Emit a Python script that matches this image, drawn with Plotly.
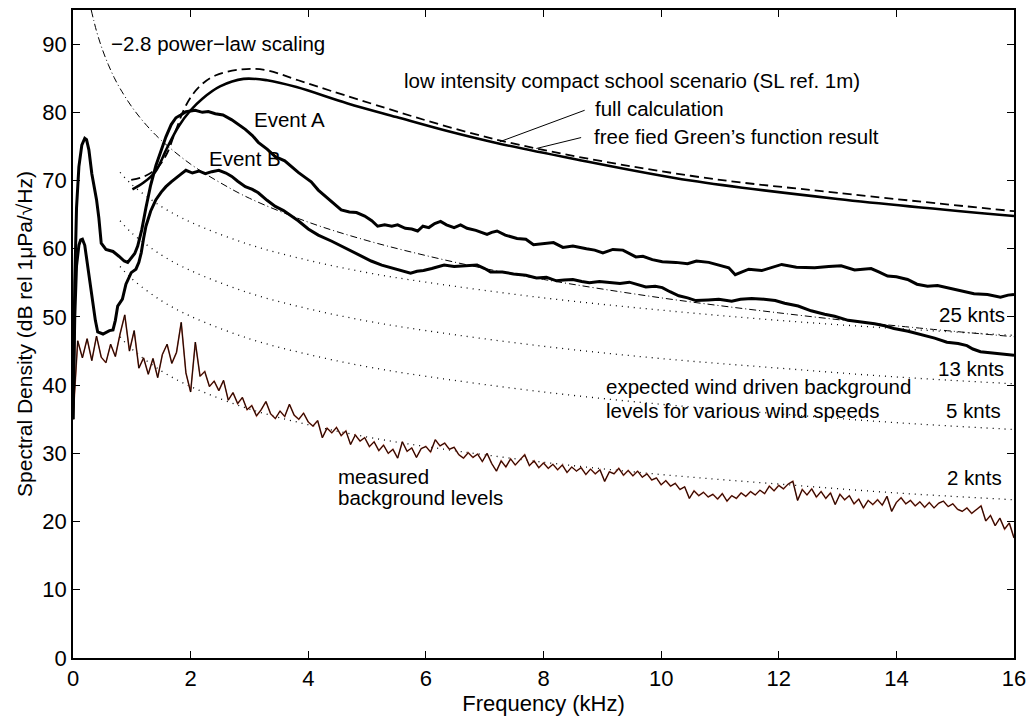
import numpy as np
import plotly.graph_objects as go

# ---------------- data ----------------
# Event A (thick solid)
event_a_f = [0, 0.03, 0.06, 0.1, 0.15, 0.2, 0.23, 0.27, 0.32, 0.4, 0.44, 0.48, 0.56, 0.68, 0.78, 0.87, 0.93, 0.99,
             1.05, 1.1, 1.17, 1.24, 1.32, 1.41, 1.5, 1.58, 1.67, 1.75, 1.83, 1.92, 2.0, 2.08, 2.2, 2.3, 2.42, 2.55,
             2.7, 2.8, 2.93, 3.05, 3.15, 3.3, 3.44, 3.6, 3.72, 3.83, 3.94, 4.05, 4.17, 4.3, 4.45, 4.56, 4.7, 4.82,
             4.96, 5.08, 5.18, 5.3, 5.42, 5.52, 5.65, 5.76, 5.86, 5.95, 6.05, 6.15, 6.25, 6.35, 6.48, 6.59, 6.7,
             6.85, 7.04, 7.12, 7.21, 7.35, 7.55, 7.7, 7.83, 8.0, 8.17, 8.33, 8.5, 8.73, 8.87, 9.01, 9.18, 9.35,
             9.57, 9.69, 9.85, 10.02, 10.25, 10.45, 10.6, 10.81, 11.0, 11.15, 11.26, 11.49, 11.71, 11.88, 12.05,
             12.3, 12.61, 12.85, 13.06, 13.29, 13.57, 13.7, 13.85, 14.0, 14.19, 14.35, 14.53, 14.7, 14.86, 15.1,
             15.32, 15.55, 15.77, 15.9, 16.0]
event_a_db = [35.0, 55.0, 66.0, 72.0, 75.2, 76.2, 76.0, 74.5, 71.0, 67.2, 64.5, 60.8, 59.9, 59.6, 58.9, 58.2, 58.0, 58.7,
              59.3, 60.4, 62.8, 66.0, 69.3, 72.2, 74.5, 76.4, 78.2, 79.2, 79.6, 80.1, 80.2, 80.3, 80.0, 80.1, 79.8, 79.6,
              78.9, 78.3, 77.5, 76.6, 75.6, 74.6, 73.5, 72.9, 72.0, 71.2, 70.5, 69.8, 68.6, 67.6, 66.5, 65.7, 65.4, 65.3,
              64.8, 64.1, 63.3, 63.5, 63.3, 63.5, 63.0, 62.9, 62.6, 63.3, 63.1, 63.7, 64.0, 63.5, 63.1, 63.5, 63.0,
              62.7, 62.1, 62.4, 62.6, 62.0, 61.5, 61.4, 60.6, 60.7, 60.9, 60.2, 60.4, 60.0, 59.8, 59.4, 59.9, 59.8,
              58.8, 58.9, 58.4, 58.1, 58.0, 57.8, 58.2, 58.0, 57.5, 57.2, 56.2, 57.0, 56.8, 57.3, 57.7,
              57.3, 57.2, 57.4, 57.5, 56.9, 57.1, 56.6, 56.0, 55.9, 55.5, 54.8, 54.5, 54.6, 54.3, 53.9,
              53.4, 53.3, 52.9, 53.2, 53.3]

# Event B (thick solid)
event_b_f = [0, 0.03, 0.06, 0.1, 0.13, 0.16, 0.2, 0.24, 0.28, 0.31, 0.34, 0.38, 0.42, 0.51, 0.62, 0.68, 0.72, 0.76,
             0.84, 0.9, 0.99, 1.07, 1.12, 1.16, 1.2, 1.24, 1.32, 1.41, 1.5, 1.58, 1.67, 1.75, 1.83, 1.92, 2.03, 2.14,
             2.25, 2.36, 2.48, 2.6, 2.7, 2.8, 2.93, 3.05, 3.15, 3.3, 3.44, 3.58, 3.72, 3.83, 4.0, 4.17, 4.4, 4.67,
             4.85, 5.07, 5.25, 5.41, 5.6, 5.74, 5.85, 5.96, 6.1, 6.31, 6.48, 6.65, 6.87, 7.0, 7.1, 7.3, 7.49, 7.7,
             7.88, 8.05, 8.22, 8.35, 8.5, 8.65, 8.78, 8.95, 9.12, 9.3, 9.46, 9.6, 9.74, 9.9, 10.02, 10.15, 10.3,
             10.45, 10.59, 10.8, 10.98, 11.2, 11.35, 11.54, 11.75, 11.94, 12.1, 12.33, 12.55, 12.78, 12.95, 13.18,
             13.4, 13.63, 13.8, 13.96, 14.2, 14.47, 14.65, 14.86, 15.05, 15.2, 15.3, 15.43, 15.55, 15.66, 15.8,
             15.96, 16.0]
event_b_db = [35.0, 50.0, 57.5, 60.5, 61.3, 61.4, 60.5, 58.0, 55.5, 54.2, 51.6, 49.5, 47.8, 47.5, 48.0, 48.1, 49.5, 51.6,
              52.6, 54.8, 56.5, 57.0, 58.0, 59.4, 61.5, 63.3, 65.5, 67.2, 68.3, 69.1, 69.8, 70.4, 70.9, 71.5, 71.1, 71.4,
              71.0, 71.3, 71.5, 71.1, 70.6, 69.9, 69.1, 68.7, 68.2, 67.1, 66.2, 65.6, 64.8, 64.1, 62.9, 62.0, 61.1, 59.9,
              59.1, 58.2, 57.6, 57.2, 56.8, 56.4, 56.7, 56.8, 57.1, 57.6, 57.4, 57.5, 57.6, 57.1, 56.6, 56.6, 56.3, 56.1,
              55.7, 55.8, 55.3, 55.4, 55.5, 55.2, 55.0, 55.2, 55.1, 54.9, 55.1, 54.8, 54.4, 54.5, 54.3, 53.7, 53.1,
              52.8, 52.4, 52.5, 52.6, 52.3, 52.6, 52.7, 52.6, 52.4, 52.0, 51.6, 50.9, 50.4, 50.1, 49.5,
              49.3, 49.0, 48.7, 48.3, 47.9, 47.3, 46.9, 46.3, 46.1, 45.8, 45.3, 44.9, 44.8, 44.7, 44.5,
              44.4, 44.4]

# Full calculation (solid) and free-field Green's function result (dashed)
full_f = [1.01, 1.2, 1.4, 1.6, 1.8, 2.0, 2.2, 2.5, 2.9, 3.3, 3.8, 4.67, 5.5, 6.3, 7.2, 8.5, 10.5, 13.0, 16.0]
full_db = [68.7, 69.7, 71.3, 74.8, 78.0, 80.3, 82.0, 83.8, 84.9, 84.7, 83.7, 81.3, 79.3, 77.4, 75.5, 73.2, 70.0, 67.3, 64.8]
free_f = [0.99, 1.15, 1.3, 1.45, 1.6, 1.75, 1.92, 2.14, 2.42, 2.87, 3.27, 3.83, 4.62, 7.2, 10.5, 13.0, 16.0]
free_db = [70.1, 70.4, 71.0, 72.0, 74.0, 77.4, 81.0, 83.7, 85.4, 86.3, 86.2, 84.7, 82.5, 76.0, 70.7, 68.2, 65.5]

# -2.8 power-law scaling (dash-dot)
power_f = [0.31, 0.4, 0.5, 0.6, 0.7, 0.8, 1.0, 1.25, 1.5, 2, 2.5, 3, 4, 5, 6, 7, 8, 10, 12, 14, 16]
power_db = [95.0, 91.9, 89.2, 87.0, 85.1, 83.5, 80.8, 78.1, 75.9, 72.4, 69.7, 67.4, 63.9, 61.2, 59.0, 57.1, 55.5,
            52.8, 50.6, 48.7, 47.1]

# Expected wind-driven background levels (dotted)
wind_f = [0.8, 1, 1.5, 2, 3, 4, 5, 6, 8, 10, 12, 14, 16]
wind_25 = [71.2, 69.4, 66.2, 63.9, 60.6, 58.3, 56.5, 55.1, 52.8, 51.0, 49.5, 48.3, 47.3]
wind_13 = [64.1, 62.3, 59.1, 56.8, 53.5, 51.2, 49.4, 48.0, 45.7, 43.9, 42.5, 41.2, 40.2]
wind_5 = [57.4, 55.6, 52.4, 50.1, 46.8, 44.5, 42.7, 41.3, 39.0, 37.2, 35.8, 34.5, 33.5]
wind_2 = [47.1, 45.3, 42.1, 39.8, 36.5, 34.2, 32.4, 31.0, 28.7, 26.9, 25.5, 24.2, 23.2]

# Measured background levels (every 0.08 kHz from 0 to 16 kHz)
measured_db = [
    35.0, 46.5, 44.0, 46.8, 43.6, 47.2, 44.1, 43.3, 46.0, 44.2,
    47.5, 50.3, 45.0, 48.0, 42.5, 44.0, 41.6, 43.9, 41.1, 44.5,
    46.0, 43.2, 44.8, 49.2, 41.8, 39.0, 46.3, 41.3, 42.0, 39.8,
    40.6, 39.2, 40.7, 37.8, 38.9, 37.3, 38.2, 36.4, 37.0, 35.5,
    36.4, 37.6, 35.8, 35.1, 36.2, 35.4, 37.2, 35.6, 35.0, 35.9,
    34.6, 34.0, 34.8, 32.3, 33.7, 33.0, 33.8, 32.6, 33.3, 31.3,
    32.7, 31.8, 32.3, 31.0, 31.7, 30.4, 31.2, 30.0, 30.6, 29.3,
    31.7, 30.3, 30.8, 29.4, 30.7, 31.0, 30.2, 32.0, 31.1, 31.5,
    30.6, 30.9, 29.8, 29.3, 30.1, 29.4, 29.9, 28.8, 30.0, 28.5,
    27.4, 28.9, 28.0, 29.2, 28.3, 29.0, 29.8, 28.2, 28.9, 27.9,
    28.6, 27.8, 28.4, 27.6, 28.3, 27.2, 28.0, 27.4, 27.9, 26.9,
    27.7, 27.0, 27.6, 25.9, 27.3, 27.0, 27.8, 26.8, 27.5, 26.7,
    27.4, 26.5, 27.0, 26.1, 26.4, 25.4, 26.0, 25.2, 25.6, 24.7,
    25.1, 23.4, 24.5, 23.8, 24.3, 23.6, 24.0, 23.3, 24.1, 23.0,
    23.8, 23.4, 24.2, 23.7, 24.4, 23.9, 24.6, 24.1, 25.2, 24.5,
    25.3, 24.8, 25.5, 25.9, 23.1, 24.7, 23.9, 24.8, 23.6, 24.4,
    23.4, 24.2, 22.5, 24.0, 23.2, 23.8, 22.6, 23.3, 22.0, 23.1,
    22.5, 23.2, 22.4, 23.7, 21.5, 22.8, 23.5, 22.6, 23.1, 22.3,
    22.9, 22.1, 22.8, 22.0, 22.7, 23.0, 22.2, 22.6, 21.8, 21.5,
    22.0, 21.2, 21.7, 22.3, 20.1, 20.9, 19.4, 20.5, 18.9, 19.8,
    17.6]
measured_f = np.round(np.linspace(0, 16, len(measured_db)), 3)

x_ticks = [0, 2, 4, 6, 8, 10, 12, 14, 16]
y_ticks = [0, 10, 20, 30, 40, 50, 60, 70, 80, 90]

# ---------------- figure ----------------
FONT = "Liberation Sans, Arial, Helvetica, sans-serif"
fig = go.Figure()

def line(x, y, width, dash="solid", color="black", shape="linear"):
    fig.add_trace(go.Scatter(x=x, y=y, mode="lines", showlegend=False, hoverinfo="skip",
                             line=dict(color=color, width=width, dash=dash, shape=shape)))

# wind curves
for w in (wind_25, wind_13, wind_5, wind_2):
    line(wind_f, w, 1.3, dash="1px,5px", shape="spline")
# power law
line(power_f, power_db, 1, dash="7px,3px,1px,3px", shape="spline")
# measured background
line(measured_f, measured_db, 1.6, color="#b04a34")
line(measured_f, measured_db, 0.9, color="black")
# events
line(event_a_f, event_a_db, 3)
line(event_b_f, event_b_db, 3)
# model curves
line(free_f, free_db, 1.8, dash="9px,5px", shape="spline")
line(full_f, full_db, 2.6, shape="spline")

# leader lines
line([8.70, 7.26], [80.3, 75.7], 1)
line([8.64, 7.88], [76.3, 74.7], 1)

ann_font = dict(family=FONT, size=20.5, color="black")
annots = [
    (0.62, 90.1, "\u22122.8 power\u2212law scaling", "left"),
    (5.60, 84.7, "low intensity compact school scenario (SL ref. 1m)", "left"),
    (8.84, 80.6, "full calculation", "left"),
    (8.82, 76.4, "free fied Green\u2019s function result", "left"),
    (3.04, 78.9, "Event A", "left"),
    (2.28, 73.3, "Event B", "left"),
    (15.88, 50.4, "25 knts", "right"),
    (15.86, 42.5, "13 knts", "right"),
    (15.82, 36.3, "5 knts", "right"),
    (15.83, 26.5, "2 knts", "right"),
    (9.03, 39.75, "expected wind driven background", "left"),
    (9.03, 36.25, "levels for various wind speeds", "left"),
    (4.48, 26.6, "measured", "left"),
    (4.48, 23.6, "background levels", "left"),
]
for x, y, t, anc in annots:
    fig.add_annotation(x=x, y=y, text=t, showarrow=False, xanchor=anc, yanchor="middle",
                       font=ann_font, xref="x", yref="y")

axis_common = dict(showline=True, linecolor="black", linewidth=1.5, mirror="ticks", ticks="inside",
                   ticklen=7, tickwidth=1, tickcolor="black", showgrid=False, zeroline=False,
                   tickfont=dict(family=FONT, size=22, color="black"))
fig.update_xaxes(range=[0, 16], tickvals=x_ticks, ticktext=[str(v) for v in x_ticks],
                 title=dict(text="Frequency (kHz)", font=dict(family=FONT, size=22, color="black"), standoff=2),
                 **axis_common)
fig.update_yaxes(range=[0, 95], tickvals=y_ticks, ticktext=[str(v) for v in y_ticks],
                 title=dict(text="Spectral Density (dB rel 1\u03bcPa/\u221aHz)",
                            font=dict(family=FONT, size=21, color="black"), standoff=4),
                 **axis_common)
fig.update_layout(width=1034, height=717, plot_bgcolor="white", paper_bgcolor="white",
                  margin=dict(l=73, r=15, t=8, b=56), showlegend=False)

fig.write_html("out.html", config={"displayModeBar": False},
               post_script="document.body.style.margin='0';document.body.style.overflow='hidden';")
